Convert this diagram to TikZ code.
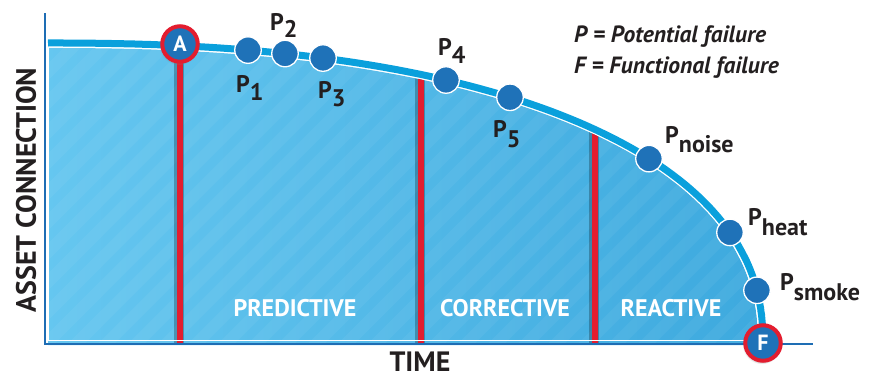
\documentclass[tikz,border=0pt]{standalone}
\usepackage{fontspec}
\setmainfont{PT Sans}
\usetikzlibrary{shadows}
\definecolor{band}{HTML}{0AA0DC}
\definecolor{dotblue}{HTML}{1F72B8}
\definecolor{axisblue}{HTML}{1E6DB4}
\definecolor{redl}{HTML}{E31D2F}
\definecolor{txt}{HTML}{231F20}
\definecolor{fillL}{HTML}{66C7F0}
\definecolor{fillR}{HTML}{3DA9DE}
\pgfmathdeclarefunction{cy}{1}{%
  \begingroup\pgfmathparse{345-302*pow(1-pow((#1-48)/715,2.3),1/2.3)}\pgfmathsmuggle\pgfmathresult\endgroup}
\begin{document}
\begin{tikzpicture}[x=1pt,y=-1pt,
  pdot/.style={circle,fill=dotblue,draw=white,line width=1.3pt,minimum size=26.5pt,inner sep=0},
  endpt/.style={circle,fill=dotblue,draw=redl,line width=4pt,minimum size=35.5pt,inner sep=0,text=white,
    font=\bfseries\fontsize{22}{22}\selectfont,
    circular drop shadow={shadow xshift=-1pt,shadow yshift=-1.5pt,opacity=.45}},
  plab/.style={anchor=base west,inner sep=0,text=txt,font=\bfseries\fontsize{24}{24}\selectfont},
  sect/.style={text=white,font=\bfseries\fontsize{24}{24}\selectfont,inner sep=0},
  axlab/.style={text=txt,font=\bfseries\fontsize{28}{28}\selectfont,inner sep=0},
  leg/.style={anchor=base west,inner sep=0,text=txt,font=\bfseries\itshape\fontsize{23.5}{23.5}\selectfont},
  redline/.style={draw=redl,line width=6pt},
  redshadow/.style={draw=black,opacity=.25,line width=10pt},
]
\useasboundingbox (0,0) rectangle (878,375);
% fill region under the curve
\begin{scope}
  \clip (48,48) -- plot[domain=89.95:0.05,samples=160,variable=\t]
     ({48+710*pow(cos(\t),0.8696)},{345-297*pow(sin(\t),0.8696)}) -- (758,345) -- (48,345) -- cycle;
  \shade[left color=fillL,right color=fillR] (40,30) rectangle (770,350);
  \foreach \s in {-320,-290,...,780}
    \draw[white,opacity=0.05,line width=12pt] (\s,350) -- ++(320,-320);
  \foreach \x/\n in {180/1,421/2,595/3} {
    \coordinate (rt\n) at (\x,30);
    \coordinate (rb\n) at (\x,343);
    \draw[redshadow] ([xshift=-1.5pt]rt\n) -- ([xshift=-1.5pt]rb\n);
    \draw[redline] (rt\n) -- (rb\n);
  }
\end{scope}
% white inner border
\draw[white,line width=1.2pt] (48.6,48) -- (48.6,340.6) -- (758,340.6);
% axes
\coordinate (ytop) at (45,13);
\coordinate (orig) at (45,344);
\coordinate (xend) at (813,344);
\draw[axisblue,line width=2.5pt] (ytop) -- (orig) -- (xend);
% curve
\draw[white,line width=1.6pt] plot[domain=89.95:0.05,samples=160,variable=\t]
     ({48+711*pow(cos(\t),0.8696)},{345-298.5*pow(sin(\t),0.8696)});
\draw[band,line width=7pt] (48,43) -- plot[domain=89.95:0.05,samples=160,variable=\t]
     ({48+715*pow(cos(\t),0.8696)},{345-302*pow(sin(\t),0.8696)}) -- (763,345);
% dots
\node[pdot] (p1) at (248,{cy(248)}) {};
\node[pdot] (p2) at (285,{cy(285)}) {};
\node[pdot] (p3) at (323,{cy(323)}) {};
\node[pdot] (p4) at (446,{cy(446)}) {};
\node[pdot] (p5) at (510,{cy(510)}) {};
\node[pdot] (pn) at (649,{cy(649)}) {};
\node[pdot] (ph) at (730,{cy(730)}) {};
\node[pdot] (ps) at (757,{cy(757)}) {};
\node[endpt] (A) at (180,44) {A};
\node[endpt] (F) at (763,343) {F};
% labels
\node[plab] (l1) at (236,92) {P\raisebox{-8pt}{1}};
\node[plab] (l2) at (270,30) {P\raisebox{-7pt}{2}};
\node[plab] (l3) at (318,98) {P\raisebox{-8pt}{3}};
\node[plab] (l4) at (438,55) {P\raisebox{-8pt}{4}};
\node[plab] (l5) at (493,137) {P\raisebox{-10pt}{5}};
\node[plab] (ln) at (665,143) {P\raisebox{-9pt}{noise}};
\node[plab] (lh) at (748,225) {P\raisebox{-10pt}{heat}};
\node[plab] (ls) at (780,290) {P\raisebox{-10pt}{smoke}};
% sections
\node[sect] (pred) at (295,308) {PREDICTIVE};
\node[sect] (corr) at (505,308) {CORRECTIVE};
\node[sect] (reac) at (671,308) {REACTIVE};
% axis labels
\node[axlab] (time) at (420,362) {TIME};
\node[axlab,rotate=90] (asset) at (26,190) {ASSET CONNECTION};
% legend
\node[leg] (lg1) at (574,42) {P = Potential failure};
\node[leg] (lg2) at (574,73) {F = Functional failure};
\end{tikzpicture}
\end{document}
